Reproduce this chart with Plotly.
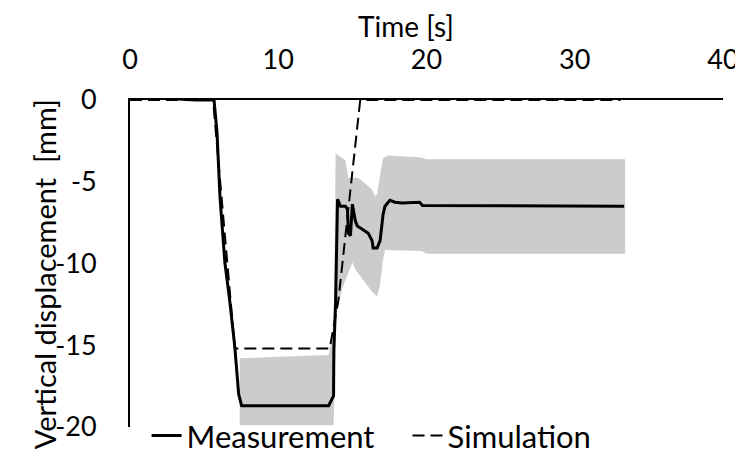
import plotly.graph_objects as go

# Measurement (time [s], vertical displacement [mm])
meas_t = [0, 2.5, 4.4, 5.67, 5.87, 6.07, 6.4, 6.73, 7.07, 7.33, 7.53, 13.4, 13.73, 13.75, 13.87, 13.93,
          14.0, 14.2, 14.53, 14.67, 14.73, 14.87, 15.0, 15.2, 15.33, 15.67, 16.07, 16.33, 16.4, 16.67,
          16.87, 17.07, 17.2, 17.53, 17.87, 18.33, 19.53, 19.73, 33.33]
meas_v = [0.15, 0.1, 0.0, 0.0, -2.0, -5.95, -9.94, -12.3, -15.1, -18.0, -18.7, -18.7, -18.1, -15.3, -12.3, -9.0,
          -6.07, -6.5, -6.5, -6.7, -8.15, -8.3, -6.37, -7.4, -7.7, -7.9, -8.15, -8.6, -9.05, -9.05,
          -8.6, -7.0, -6.5, -6.13, -6.25, -6.3, -6.25, -6.45, -6.5]

# Simulation
sim_t = [0, 5.6, 7.07, 13.47, 14.05, 15.53, 33.1]
sim_v = [0, 0, -15.2, -15.2, -12.3, 0, 0]

# Scatter band (upper and lower bounds)
band_up_t = [7.4, 13.4, 13.75, 13.87, 14.53, 14.73, 15.4, 15.73, 16.33, 16.53, 16.67, 16.87, 17.07, 17.4,
             19.67, 20.0, 33.4]
band_up_v = [-15.8, -15.6, -13.9, -3.27, -3.69, -4.76, -4.76, -5.0, -5.48, -5.9, -5.77, -4.58, -3.57, -3.39,
             -3.51, -3.63, -3.63]
band_lo_t = [7.4, 13.73, 13.93, 14.07, 14.33, 15.0, 15.2, 15.67, 16.33, 16.53, 16.67, 16.87, 17.07, 17.2,
             17.67, 19.67, 20.0, 33.4]
band_lo_v = [-19.9, -19.9, -12.9, -12.5, -11.5, -9.94, -10.36, -10.95, -11.73, -11.9, -12.0, -11.3, -9.76, -9.17,
             -9.17, -9.23, -9.4, -9.4]

x_ticks = [0, 10, 20, 30, 40]
y_ticks = [0, -5, -10, -15, -20]

FONT = "Lato"
FS_TICK = 27
FS_TEXT = 31

fig = go.Figure()
fig.add_trace(go.Scatter(
    x=band_up_t + band_lo_t[::-1], y=band_up_v + band_lo_v[::-1],
    fill="toself", fillcolor="#cccccc", line=dict(width=0, color="#cccccc"),
    mode="lines", showlegend=False, hoverinfo="skip"))
fig.add_trace(go.Scatter(x=meas_t, y=meas_v, mode="lines", name="Measurement",
                         line=dict(color="black", width=3), legend="legend"))
fig.add_trace(go.Scatter(x=sim_t, y=sim_v, mode="lines", name="Simulation",
                         line=dict(color="black", width=2, dash="12px,6px"), legend="legend2"))

leg_common = dict(orientation="h", y=-0.027, yanchor="middle", bgcolor="rgba(0,0,0,0)",
                  font=dict(size=FS_TEXT, family=FONT), itemwidth=30, borderwidth=0)

fig.update_layout(
    width=743, height=467,
    margin=dict(l=122, r=20, t=92, b=39),
    plot_bgcolor="white", paper_bgcolor="white",
    font=dict(family=FONT, size=FS_TICK, color="black"),
    showlegend=True,
    legend=dict(x=0.028, xanchor="left", **leg_common),
    legend2=dict(x=0.468, xanchor="left", **leg_common),
    xaxis=dict(range=[0, 40], side="top", tickvals=x_ticks, ticktext=[str(v) for v in x_ticks],
               showgrid=False, zeroline=False, showline=True, linecolor="black", linewidth=2,
               ticks="", ticklabelstandoff=18, tickfont=dict(size=FS_TICK)),
    yaxis=dict(range=[-20, 0], tickvals=y_ticks, ticktext=[str(v) for v in y_ticks],
               showgrid=False, zeroline=False, showline=True, linecolor="black", linewidth=2,
               ticks="", ticklabelstandoff=26, tickfont=dict(size=FS_TICK)),
    annotations=[
        dict(text="Time [s]", xref="paper", yref="paper", x=0.465, y=1.226,
             xanchor="center", yanchor="middle", showarrow=False, font=dict(size=28)),
        dict(text="Vertical displacement  [mm]", xref="paper", yref="paper", x=-0.145, y=0.467,
             xanchor="center", yanchor="middle", textangle=-90, showarrow=False,
             font=dict(size=29)),
    ],
)

fig.write_html("out.html")
